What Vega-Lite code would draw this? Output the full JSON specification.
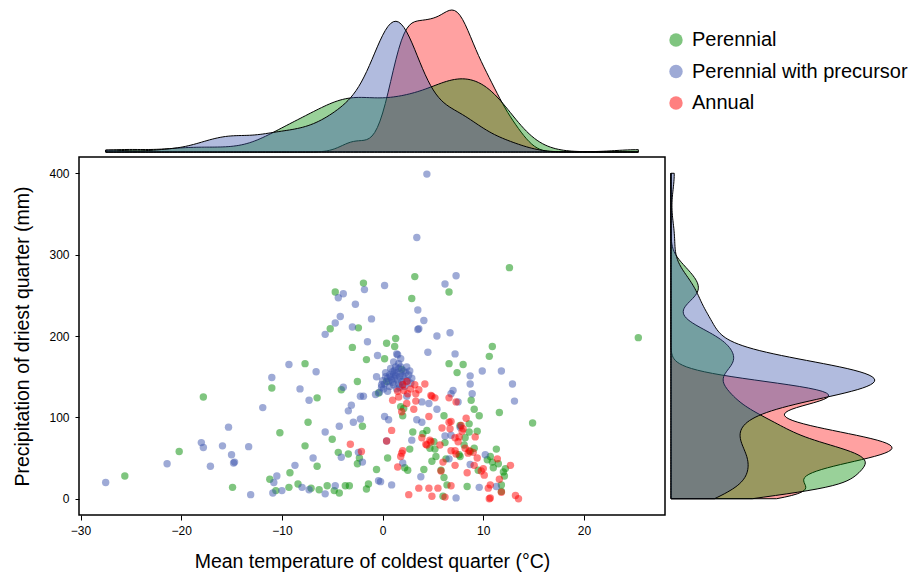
{
"$schema": "https://vega.github.io/schema/vega-lite/v6.json",
"padding": {"left": 12, "top": 8, "right": 5, "bottom": 5},
"background": "white",
"config": {
  "font": "Liberation Sans",
  "view": {"stroke": null},
  "axis": {"grid": false, "labelFont": "Liberation Sans", "titleFont": "Liberation Sans", "labelColor": "black", "titleColor": "black", "tickColor": "black", "domainColor": "black", "titleFontWeight": "normal"},
  "legend": {"labelFont": "Liberation Sans", "labelColor": "black"}
},
"datasets": {"pts": [
{"type":"Perennial","temp":3.2,"precip":273},{"type":"Perennial","temp":-1.9,"precip":265},{"type":"Perennial","temp":-4.7,"precip":254},{"type":"Perennial","temp":6.6,"precip":254},{"type":"Perennial","temp":2.9,"precip":246},{"type":"Perennial","temp":-5.2,"precip":209},{"type":"Perennial","temp":-2.4,"precip":210},{"type":"Perennial","temp":1.3,"precip":197},{"type":"Perennial","temp":12.6,"precip":284},{"type":"Perennial","temp":25.4,"precip":198},{"type":"Perennial","temp":-11.0,"precip":136},{"type":"Perennial","temp":-17.8,"precip":125},{"type":"Perennial","temp":-20.2,"precip":58},{"type":"Perennial","temp":-25.6,"precip":28},{"type":"Perennial","temp":-14.9,"precip":14},{"type":"Perennial","temp":-11.2,"precip":24},{"type":"Perennial","temp":-10.6,"precip":10},{"type":"Perennial","temp":-10.2,"precip":81},{"type":"Perennial","temp":-3.0,"precip":186},{"type":"Perennial","temp":0.4,"precip":191},{"type":"Perennial","temp":1.2,"precip":187},{"type":"Perennial","temp":6.6,"precip":166},{"type":"Perennial","temp":8.0,"precip":165},{"type":"Perennial","temp":7.4,"precip":155},{"type":"Perennial","temp":8.8,"precip":121},{"type":"Perennial","temp":9.1,"precip":110},{"type":"Perennial","temp":-7.7,"precip":166},{"type":"Perennial","temp":-6.5,"precip":124},{"type":"Perennial","temp":-2.5,"precip":144},{"type":"Perennial","temp":-4.1,"precip":134},{"type":"Perennial","temp":-2.0,"precip":89},{"type":"Perennial","temp":-7.4,"precip":94},{"type":"Perennial","temp":-5.0,"precip":73},{"type":"Perennial","temp":-7.7,"precip":65},{"type":"Perennial","temp":-4.4,"precip":57},{"type":"Perennial","temp":-3.4,"precip":55},{"type":"Perennial","temp":-2.3,"precip":50},{"type":"Perennial","temp":-2.5,"precip":43},{"type":"Perennial","temp":-6.5,"precip":40},{"type":"Perennial","temp":-9.2,"precip":32},{"type":"Perennial","temp":-0.6,"precip":36},{"type":"Perennial","temp":0.5,"precip":50},{"type":"Perennial","temp":-1.4,"precip":18},{"type":"Perennial","temp":-1.6,"precip":12},{"type":"Perennial","temp":-8.4,"precip":18},{"type":"Perennial","temp":-9.3,"precip":14},{"type":"Perennial","temp":-7.1,"precip":13},{"type":"Perennial","temp":-6.3,"precip":11},{"type":"Perennial","temp":-5.5,"precip":16},{"type":"Perennial","temp":-4.8,"precip":10},{"type":"Perennial","temp":-4.3,"precip":7},{"type":"Perennial","temp":-3.7,"precip":16},{"type":"Perennial","temp":-3.3,"precip":16},{"type":"Perennial","temp":6.0,"precip":3},{"type":"Perennial","temp":6.4,"precip":17},{"type":"Perennial","temp":8.4,"precip":15},{"type":"Perennial","temp":4.1,"precip":36},{"type":"Perennial","temp":2.2,"precip":38},{"type":"Perennial","temp":2.5,"precip":35},{"type":"Perennial","temp":2.7,"precip":61},{"type":"Perennial","temp":3.0,"precip":82},{"type":"Perennial","temp":2.0,"precip":102},{"type":"Perennial","temp":6.1,"precip":102},{"type":"Perennial","temp":2.1,"precip":111},{"type":"Perennial","temp":4.4,"precip":84},{"type":"Perennial","temp":4.0,"precip":80},{"type":"Perennial","temp":5.1,"precip":70},{"type":"Perennial","temp":4.7,"precip":62},{"type":"Perennial","temp":5.2,"precip":61},{"type":"Perennial","temp":6.2,"precip":69},{"type":"Perennial","temp":7.7,"precip":90},{"type":"Perennial","temp":8.6,"precip":92},{"type":"Perennial","temp":8.6,"precip":82},{"type":"Perennial","temp":8.2,"precip":75},{"type":"Perennial","temp":8.1,"precip":66},{"type":"Perennial","temp":9.1,"precip":62},{"type":"Perennial","temp":7.7,"precip":52},{"type":"Perennial","temp":6.3,"precip":49},{"type":"Perennial","temp":5.3,"precip":52},{"type":"Perennial","temp":4.9,"precip":46},{"type":"Perennial","temp":6.1,"precip":26},{"type":"Perennial","temp":9.5,"precip":35},{"type":"Perennial","temp":1.8,"precip":113},{"type":"Perennial","temp":-1.6,"precip":171},{"type":"Perennial","temp":0.2,"precip":172},{"type":"Perennial","temp":10.9,"precip":187},{"type":"Perennial","temp":10.6,"precip":175},{"type":"Perennial","temp":11.6,"precip":106},{"type":"Perennial","temp":9.6,"precip":102},{"type":"Perennial","temp":0.4,"precip":144},{"type":"Perennial","temp":14.9,"precip":93},{"type":"Perennial","temp":11.3,"precip":61},{"type":"Perennial","temp":10.7,"precip":52},{"type":"Perennial","temp":10.4,"precip":48},{"type":"Perennial","temp":10.9,"precip":45},{"type":"Perennial","temp":11.5,"precip":43},{"type":"Perennial","temp":12.2,"precip":37},{"type":"Perennial","temp":12.0,"precip":33},{"type":"Perennial","temp":11.0,"precip":38},{"type":"Perennial","temp":11.8,"precip":17},{"type":"Perennial","temp":11.8,"precip":9},{"type":"Perennial","temp":9.4,"precip":83},{"type":"Perennial","temp":8.7,"precip":58},{"type":"Perennial","temp":7.6,"precip":54},{"type":"Perennial","temp":5.8,"precip":35},{"type":"Perennial","temp":-0.4,"precip":130},{"type":"Perennial","temp":1.9,"precip":159},{"type":"Perennial","temp":12.1,"precip":28},
{"type":"Perennial with precursor","temp":4.4,"precip":399},{"type":"Perennial with precursor","temp":3.4,"precip":321},{"type":"Perennial with precursor","temp":7.3,"precip":274},{"type":"Perennial with precursor","temp":0.2,"precip":262},{"type":"Perennial with precursor","temp":6.2,"precip":264},{"type":"Perennial with precursor","temp":-3.9,"precip":252},{"type":"Perennial with precursor","temp":-4.4,"precip":247},{"type":"Perennial with precursor","temp":-1.8,"precip":257},{"type":"Perennial with precursor","temp":-2.7,"precip":239},{"type":"Perennial with precursor","temp":3.5,"precip":232},{"type":"Perennial with precursor","temp":-4.2,"precip":224},{"type":"Perennial with precursor","temp":4.1,"precip":219},{"type":"Perennial with precursor","temp":-4.7,"precip":216},{"type":"Perennial with precursor","temp":-1.1,"precip":221},{"type":"Perennial with precursor","temp":-3.0,"precip":211},{"type":"Perennial with precursor","temp":3.5,"precip":208},{"type":"Perennial with precursor","temp":3.6,"precip":209},{"type":"Perennial with precursor","temp":-5.7,"precip":202},{"type":"Perennial with precursor","temp":5.4,"precip":200},{"type":"Perennial with precursor","temp":6.7,"precip":204},{"type":"Perennial with precursor","temp":-11.0,"precip":149},{"type":"Perennial with precursor","temp":-11.9,"precip":112},{"type":"Perennial with precursor","temp":-15.3,"precip":88},{"type":"Perennial with precursor","temp":-18.0,"precip":69},{"type":"Perennial with precursor","temp":-17.8,"precip":63},{"type":"Perennial with precursor","temp":-15.9,"precip":65},{"type":"Perennial with precursor","temp":-13.3,"precip":64},{"type":"Perennial with precursor","temp":-15.0,"precip":54},{"type":"Perennial with precursor","temp":-14.8,"precip":44},{"type":"Perennial with precursor","temp":-14.7,"precip":45},{"type":"Perennial with precursor","temp":-17.1,"precip":40},{"type":"Perennial with precursor","temp":-21.4,"precip":43},{"type":"Perennial with precursor","temp":-27.5,"precip":20},{"type":"Perennial with precursor","temp":-13.1,"precip":5},{"type":"Perennial with precursor","temp":-10.5,"precip":28},{"type":"Perennial with precursor","temp":-10.8,"precip":20},{"type":"Perennial with precursor","temp":-10.9,"precip":7},{"type":"Perennial with precursor","temp":-1.5,"precip":193},{"type":"Perennial with precursor","temp":4.5,"precip":180},{"type":"Perennial with precursor","temp":7.2,"precip":178},{"type":"Perennial with precursor","temp":8.7,"precip":151},{"type":"Perennial with precursor","temp":8.7,"precip":141},{"type":"Perennial with precursor","temp":8.9,"precip":129},{"type":"Perennial with precursor","temp":-9.3,"precip":165},{"type":"Perennial with precursor","temp":-6.6,"precip":156},{"type":"Perennial with precursor","temp":-8.2,"precip":135},{"type":"Perennial with precursor","temp":-7.3,"precip":121},{"type":"Perennial with precursor","temp":-3.9,"precip":137},{"type":"Perennial with precursor","temp":-2.2,"precip":126},{"type":"Perennial with precursor","temp":-3.1,"precip":115},{"type":"Perennial with precursor","temp":-3.4,"precip":108},{"type":"Perennial with precursor","temp":-2.2,"precip":98},{"type":"Perennial with precursor","temp":-2.9,"precip":94},{"type":"Perennial with precursor","temp":-4.3,"precip":89},{"type":"Perennial with precursor","temp":-5.7,"precip":82},{"type":"Perennial with precursor","temp":-4.1,"precip":51},{"type":"Perennial with precursor","temp":-2.4,"precip":57},{"type":"Perennial with precursor","temp":-2.0,"precip":45},{"type":"Perennial with precursor","temp":-6.9,"precip":50},{"type":"Perennial with precursor","temp":-8.7,"precip":41},{"type":"Perennial with precursor","temp":-0.4,"precip":22},{"type":"Perennial with precursor","temp":-0.2,"precip":21},{"type":"Perennial with precursor","temp":0.9,"precip":17},{"type":"Perennial with precursor","temp":3.8,"precip":27},{"type":"Perennial with precursor","temp":-10.0,"precip":10},{"type":"Perennial with precursor","temp":-8.0,"precip":14},{"type":"Perennial with precursor","temp":-7.3,"precip":11},{"type":"Perennial with precursor","temp":-5.7,"precip":6},{"type":"Perennial with precursor","temp":-4.7,"precip":16},{"type":"Perennial with precursor","temp":7.3,"precip":1},{"type":"Perennial with precursor","temp":2.0,"precip":44},{"type":"Perennial with precursor","temp":2.9,"precip":72},{"type":"Perennial with precursor","temp":0.4,"precip":71},{"type":"Perennial with precursor","temp":0.2,"precip":101},{"type":"Perennial with precursor","temp":0.6,"precip":97},{"type":"Perennial with precursor","temp":3.4,"precip":97},{"type":"Perennial with precursor","temp":3.9,"precip":94},{"type":"Perennial with precursor","temp":6.2,"precip":77},{"type":"Perennial with precursor","temp":6.8,"precip":78},{"type":"Perennial with precursor","temp":7.7,"precip":88},{"type":"Perennial with precursor","temp":6.6,"precip":49},{"type":"Perennial with precursor","temp":8.7,"precip":42},{"type":"Perennial with precursor","temp":2.4,"precip":126},{"type":"Perennial with precursor","temp":3.9,"precip":119},{"type":"Perennial with precursor","temp":4.6,"precip":117},{"type":"Perennial with precursor","temp":5.4,"precip":110},{"type":"Perennial with precursor","temp":6.8,"precip":129},{"type":"Perennial with precursor","temp":7.0,"precip":133},{"type":"Perennial with precursor","temp":7.5,"precip":119},{"type":"Perennial with precursor","temp":9.9,"precip":157},{"type":"Perennial with precursor","temp":11.8,"precip":157},{"type":"Perennial with precursor","temp":12.9,"precip":141},{"type":"Perennial with precursor","temp":13.1,"precip":120},{"type":"Perennial with precursor","temp":-1.9,"precip":126},{"type":"Perennial with precursor","temp":-0.5,"precip":176},{"type":"Perennial with precursor","temp":1.5,"precip":177},{"type":"Perennial with precursor","temp":1.8,"precip":172},{"type":"Perennial with precursor","temp":1.4,"precip":178},{"type":"Perennial with precursor","temp":1.6,"precip":166},{"type":"Perennial with precursor","temp":1.8,"precip":162},{"type":"Perennial with precursor","temp":2.7,"precip":157},{"type":"Perennial with precursor","temp":9.6,"precip":14},{"type":"Perennial with precursor","temp":11.3,"precip":15},{"type":"Perennial with precursor","temp":10.2,"precip":54},{"type":"Perennial with precursor","temp":-0.6,"precip":150},{"type":"Perennial with precursor","temp":-0.7,"precip":128},{"type":"Perennial with precursor","temp":-0.1,"precip":140},{"type":"Perennial with precursor","temp":0.3,"precip":155},{"type":"Perennial with precursor","temp":0.7,"precip":152},{"type":"Perennial with precursor","temp":1.1,"precip":153},{"type":"Perennial with precursor","temp":1.4,"precip":155},{"type":"Perennial with precursor","temp":1.7,"precip":150},{"type":"Perennial with precursor","temp":2.1,"precip":157},{"type":"Perennial with precursor","temp":2.6,"precip":152},{"type":"Perennial with precursor","temp":1.6,"precip":160},{"type":"Perennial with precursor","temp":1.2,"precip":158},{"type":"Perennial with precursor","temp":0.9,"precip":146},{"type":"Perennial with precursor","temp":0.6,"precip":144},{"type":"Perennial with precursor","temp":0.2,"precip":141},{"type":"Perennial with precursor","temp":-0.1,"precip":137},{"type":"Perennial with precursor","temp":-0.3,"precip":131},{"type":"Perennial with precursor","temp":0.1,"precip":135},{"type":"Perennial with precursor","temp":0.7,"precip":138},{"type":"Perennial with precursor","temp":1.9,"precip":144},{"type":"Perennial with precursor","temp":2.2,"precip":147},{"type":"Perennial with precursor","temp":1.2,"precip":148},{"type":"Perennial with precursor","temp":1.6,"precip":141},{"type":"Perennial with precursor","temp":1.1,"precip":140},{"type":"Perennial with precursor","temp":1.4,"precip":135},{"type":"Perennial with precursor","temp":2.2,"precip":138},{"type":"Perennial with precursor","temp":2.9,"precip":148},
{"type":"Perennial with precursor","temp":0.0,"precip":145},{"type":"Perennial with precursor","temp":0.5,"precip":148},{"type":"Perennial with precursor","temp":0.8,"precip":150},{"type":"Perennial with precursor","temp":1.0,"precip":156},{"type":"Perennial with precursor","temp":1.3,"precip":151},{"type":"Perennial with precursor","temp":1.5,"precip":146},{"type":"Perennial with precursor","temp":1.8,"precip":154},{"type":"Perennial with precursor","temp":2.0,"precip":151},{"type":"Perennial with precursor","temp":2.3,"precip":155},{"type":"Perennial with precursor","temp":2.5,"precip":145},{"type":"Perennial with precursor","temp":0.3,"precip":150},{"type":"Perennial with precursor","temp":1.0,"precip":143},{"type":"Perennial with precursor","temp":1.3,"precip":162},{"type":"Perennial with precursor","temp":0.8,"precip":160},{"type":"Perennial with precursor","temp":2.0,"precip":140},{"type":"Perennial with precursor","temp":1.7,"precip":137},{"type":"Perennial with precursor","temp":0.5,"precip":132},{"type":"Perennial with precursor","temp":2.4,"precip":162},{"type":"Perennial with precursor","temp":1.1,"precip":168},{"type":"Perennial with precursor","temp":2.8,"precip":142},
{"type":"Annual","temp":-3.2,"precip":67},{"type":"Annual","temp":-2.1,"precip":58},{"type":"Annual","temp":2.6,"precip":5},{"type":"Annual","temp":3.6,"precip":13},{"type":"Annual","temp":4.6,"precip":13},{"type":"Annual","temp":4.9,"precip":3},{"type":"Annual","temp":5.5,"precip":13},{"type":"Annual","temp":6.8,"precip":16},{"type":"Annual","temp":1.5,"precip":39},{"type":"Annual","temp":1.8,"precip":52},{"type":"Annual","temp":2.0,"precip":59},{"type":"Annual","temp":0.4,"precip":71},{"type":"Annual","temp":0.9,"precip":84},{"type":"Annual","temp":4.6,"precip":101},{"type":"Annual","temp":3.1,"precip":110},{"type":"Annual","temp":1.9,"precip":107},{"type":"Annual","temp":3.9,"precip":75},{"type":"Annual","temp":4.3,"precip":67},{"type":"Annual","temp":4.7,"precip":72},{"type":"Annual","temp":5.7,"precip":66},{"type":"Annual","temp":5.9,"precip":87},{"type":"Annual","temp":6.7,"precip":86},{"type":"Annual","temp":6.8,"precip":95},{"type":"Annual","temp":7.2,"precip":75},{"type":"Annual","temp":7.9,"precip":83},{"type":"Annual","temp":7.6,"precip":76},{"type":"Annual","temp":8.6,"precip":59},{"type":"Annual","temp":9.0,"precip":57},{"type":"Annual","temp":6.8,"precip":59},{"type":"Annual","temp":7.2,"precip":59},{"type":"Annual","temp":6.0,"precip":45},{"type":"Annual","temp":5.8,"precip":34},{"type":"Annual","temp":7.2,"precip":41},{"type":"Annual","temp":8.4,"precip":32},{"type":"Annual","temp":1.6,"precip":125},{"type":"Annual","temp":1.0,"precip":121},{"type":"Annual","temp":2.4,"precip":117},{"type":"Annual","temp":3.3,"precip":120},{"type":"Annual","temp":3.3,"precip":129},{"type":"Annual","temp":2.1,"precip":133},{"type":"Annual","temp":1.5,"precip":132},{"type":"Annual","temp":3.2,"precip":140},{"type":"Annual","temp":4.2,"precip":141},{"type":"Annual","temp":2.4,"precip":144},{"type":"Annual","temp":4.9,"precip":126},{"type":"Annual","temp":5.2,"precip":124},{"type":"Annual","temp":6.6,"precip":124},{"type":"Annual","temp":7.3,"precip":119},{"type":"Annual","temp":2.5,"precip":129},{"type":"Annual","temp":4.8,"precip":127},{"type":"Annual","temp":1.9,"precip":56},{"type":"Annual","temp":6.6,"precip":94},{"type":"Annual","temp":4.8,"precip":70},{"type":"Annual","temp":4.4,"precip":66},{"type":"Annual","temp":7.3,"precip":55},{"type":"Annual","temp":8.5,"precip":56},{"type":"Annual","temp":9.2,"precip":76},{"type":"Annual","temp":8.3,"precip":99},{"type":"Annual","temp":8.0,"precip":86},{"type":"Annual","temp":9.4,"precip":50},{"type":"Annual","temp":9.8,"precip":34},{"type":"Annual","temp":10.1,"precip":29},{"type":"Annual","temp":10.5,"precip":13},{"type":"Annual","temp":10.6,"precip":0},{"type":"Annual","temp":10.7,"precip":1},{"type":"Annual","temp":11.6,"precip":24},{"type":"Annual","temp":13.2,"precip":4},{"type":"Annual","temp":13.5,"precip":0},{"type":"Annual","temp":12.7,"precip":41},{"type":"Annual","temp":11.4,"precip":49},{"type":"Annual","temp":10.0,"precip":37},{"type":"Annual","temp":10.7,"precip":17},{"type":"Annual","temp":11.8,"precip":8},{"type":"Annual","temp":6.2,"precip":2},{"type":"Annual","temp":9.1,"precip":41},
{"type":"Annual","temp":2.0,"precip":140},{"type":"Annual","temp":2.8,"precip":135},{"type":"Annual","temp":3.6,"precip":134},{"type":"Annual","temp":7.8,"precip":90},{"type":"Annual","temp":7.5,"precip":70},{"type":"Annual","temp":8.2,"precip":62}
]},
"bounds": "flush",
"spacing": 5,
"resolve": {"scale": {"x": "independent", "y": "independent"}},
"vconcat": [
  {
    "width": 586, "height": 142,
    "data": {"name": "pts"},
    "layer": [
      {"transform": [{"filter": "datum.type === 'Annual'"}, {"density": "temp", "bandwidth": 1.25, "extent": [-27.5, 25.4], "steps": 200, "as": ["temp", "density"]}],
       "mark": {"type": "area", "fill": "#FF0000", "fillOpacity": 0.37, "stroke": "black", "strokeWidth": 1},
       "encoding": {"x": {"field": "temp", "type": "quantitative", "scale": {"domain": [-30.15, 28.05], "nice": false, "zero": false}, "axis": null},
                    "y": {"field": "density", "type": "quantitative", "scale": {"nice": false, "zero": true}, "axis": null}}},
      {"transform": [{"filter": "datum.type === 'Perennial'"}, {"density": "temp", "bandwidth": 2.3, "extent": [-27.5, 25.4], "steps": 200, "as": ["temp", "density"]}],
       "mark": {"type": "area", "fill": "#008B00", "fillOpacity": 0.4, "stroke": "black", "strokeWidth": 1},
       "encoding": {"x": {"field": "temp", "type": "quantitative"}, "y": {"field": "density", "type": "quantitative"}}},
      {"transform": [{"filter": "datum.type === 'Perennial with precursor'"}, {"density": "temp", "bandwidth": 1.9, "extent": [-27.5, 25.4], "steps": 200, "as": ["temp", "density"]}],
       "mark": {"type": "area", "fill": "#3D55AD", "fillOpacity": 0.4, "stroke": "black", "strokeWidth": 1},
       "encoding": {"x": {"field": "temp", "type": "quantitative"}, "y": {"field": "density", "type": "quantitative"}}}
    ]
  },
  {
    "bounds": "flush",
    "spacing": 6,
    "resolve": {"scale": {"x": "independent", "y": "independent"}},
    "hconcat": [
      {
        "width": 586, "height": 358,
        "view": {"stroke": "black", "strokeWidth": 1.5},
        "data": {"name": "pts"},
        "mark": {"type": "circle", "size": 55, "opacity": 0.5},
        "encoding": {
          "x": {"field": "temp", "type": "quantitative", "title": "Mean temperature of coldest quarter (°C)",
                "scale": {"domain": [-30.15, 28.05], "nice": false, "zero": false},
                "axis": {"values": [-30, -20, -10, 0, 10, 20], "domain": false, "tickSize": 5, "labelPadding": 5, "labelFontSize": 12, "titleFontSize": 19.5, "titlePadding": 16}},
          "y": {"field": "precip", "type": "quantitative", "title": "Precipitation of driest quarter (mm)",
                "scale": {"domain": [-20, 420], "nice": false, "zero": false},
                "axis": {"values": [0, 100, 200, 300, 400], "domain": false, "tickSize": 4, "labelPadding": 6, "labelFontSize": 12, "titleFontSize": 19.5, "titlePadding": 16}},
          "color": {"field": "type", "type": "nominal",
                    "scale": {"domain": ["Perennial", "Perennial with precursor", "Annual"], "range": ["#008B00", "#3D55AD", "#FF0000"]},
                    "legend": {"title": null, "orient": "none", "legendX": 587, "legendY": 20, "labelFontSize": 20, "labelLimit": 0, "symbolSize": 180, "symbolType": "circle", "symbolOpacity": 0.5, "symbolStrokeWidth": 0, "rowPadding": 11.5, "labelOffset": 6}}
        }
      },
      {
        "width": 221, "height": 358,
        "data": {"name": "pts"},
        "layer": [
          {"transform": [{"filter": "datum.type === 'Annual'"}, {"density": "precip", "bandwidth": 13, "extent": [0, 400], "steps": 200, "as": ["precip", "density"]}],
           "mark": {"type": "area", "orient": "horizontal", "fill": "#FF0000", "fillOpacity": 0.37, "stroke": "black", "strokeWidth": 1},
           "encoding": {"y": {"field": "precip", "type": "quantitative", "scale": {"domain": [-20, 420], "nice": false, "zero": false}, "axis": null},
                        "x": {"field": "density", "type": "quantitative", "scale": {"nice": false, "zero": true}, "axis": null}}},
          {"transform": [{"filter": "datum.type === 'Perennial'"}, {"density": "precip", "bandwidth": 14, "extent": [0, 400], "steps": 200, "as": ["precip", "density"]}],
           "mark": {"type": "area", "orient": "horizontal", "fill": "#008B00", "fillOpacity": 0.4, "stroke": "black", "strokeWidth": 1},
           "encoding": {"y": {"field": "precip", "type": "quantitative"}, "x": {"field": "density", "type": "quantitative"}}},
          {"transform": [{"filter": "datum.type === 'Perennial with precursor'"}, {"density": "precip", "bandwidth": 20, "extent": [0, 400], "steps": 200, "as": ["precip", "density"]}],
           "mark": {"type": "area", "orient": "horizontal", "fill": "#3D55AD", "fillOpacity": 0.4, "stroke": "black", "strokeWidth": 1},
           "encoding": {"y": {"field": "precip", "type": "quantitative"}, "x": {"field": "density", "type": "quantitative"}}}
        ]
      }
    ]
  }
]
}
